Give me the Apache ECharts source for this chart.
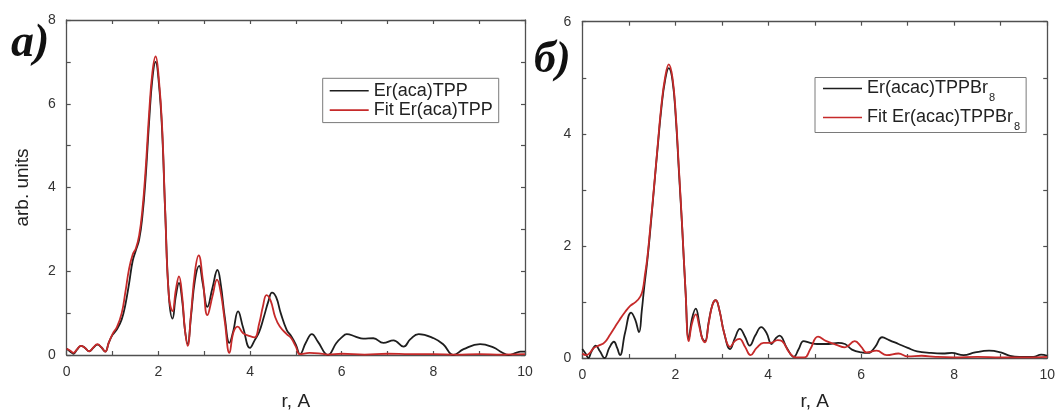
<!DOCTYPE html>
<html>
<head>
<meta charset="utf-8">
<script src="https://cdn.jsdelivr.net/npm/echarts@6/dist/echarts.min.js"></script>
<style>
  html, body { margin: 0; padding: 0; background: #ffffff; }
  #chart { width: 1058px; height: 416px; }
</style>
</head>
<body>
<div id="chart"></div>
<script>
// Panel а): Er(aca)TPP — experimental Fourier transform and fit
const rExpA = [0.00,0.08,0.15,0.22,0.31,0.40,0.49,0.58,0.67,0.76,0.84,0.92,1.00,1.10,1.20,1.28,1.36,1.44,1.51,1.58,1.65,1.72,1.80,1.87,1.94,2.01,2.08,2.15,2.23,2.31,2.38,2.45,2.52,2.58,2.64,2.71,2.80,2.89,2.97,3.07,3.18,3.29,3.36,3.45,3.55,3.63,3.74,3.85,4.00,4.10,4.20,4.30,4.40,4.48,4.57,4.67,4.80,4.90,5.00,5.09,5.22,5.35,5.48,5.70,5.88,6.00,6.11,6.30,6.47,6.69,6.91,7.13,7.35,7.50,7.68,8.01,8.22,8.44,8.66,9.02,9.31,9.50,9.64,9.80,9.90,10.00];
const muExpA = [0.15,0.08,0.03,0.12,0.22,0.17,0.09,0.17,0.25,0.18,0.08,0.30,0.48,0.62,0.85,1.20,1.70,2.25,2.50,2.75,3.30,4.20,5.60,6.60,7.00,6.50,5.40,3.40,1.40,0.87,1.40,1.72,1.30,0.60,0.26,0.90,1.80,2.13,1.70,1.15,1.60,2.03,1.70,0.90,0.29,0.55,1.04,0.65,0.17,0.35,0.55,0.90,1.28,1.49,1.38,1.00,0.60,0.45,0.25,0.02,0.30,0.50,0.32,0.00,0.28,0.42,0.50,0.44,0.39,0.40,0.29,0.35,0.20,0.38,0.50,0.40,0.25,0.00,0.14,0.26,0.18,0.06,0.00,0.05,0.08,0.08];

const rFitA = [0.00,0.08,0.15,0.22,0.31,0.40,0.49,0.58,0.67,0.76,0.84,0.92,1.00,1.10,1.20,1.28,1.36,1.44,1.51,1.58,1.65,1.72,1.80,1.87,1.94,2.01,2.08,2.15,2.23,2.31,2.38,2.45,2.52,2.58,2.64,2.71,2.80,2.88,2.97,3.07,3.18,3.28,3.36,3.45,3.55,3.64,3.73,3.85,4.00,4.10,4.20,4.28,4.36,4.45,4.55,4.65,4.80,4.90,5.00,5.09,5.30,5.50,5.70,6.00,6.50,7.00,7.50,8.00,8.50,9.00,9.50,10.00];
const muFitA = [0.15,0.10,0.05,0.13,0.22,0.17,0.09,0.18,0.26,0.18,0.08,0.30,0.50,0.68,1.00,1.50,2.05,2.40,2.55,2.85,3.45,4.40,5.80,6.75,7.13,6.60,5.50,3.40,1.40,1.05,1.55,1.88,1.40,0.60,0.22,0.95,2.00,2.38,1.80,0.95,1.40,1.80,1.50,0.80,0.05,0.55,0.68,0.52,0.45,0.42,0.75,1.15,1.43,1.30,0.90,0.68,0.50,0.40,0.20,0.02,0.05,0.04,0.01,0.03,0.01,0.03,0.02,0.02,0.01,0.02,0.01,0.02];

// Panel б): Er(acac)TPPBr8 — experimental Fourier transform and fit
const rExpB = [0.00,0.07,0.13,0.20,0.29,0.38,0.48,0.58,0.68,0.75,0.81,0.92,1.05,1.14,1.22,1.28,1.33,1.40,1.47,1.55,1.62,1.70,1.78,1.86,1.94,2.01,2.08,2.15,2.22,2.29,2.36,2.44,2.52,2.58,2.64,2.72,2.80,2.87,2.95,3.05,3.18,3.28,3.39,3.50,3.60,3.72,3.85,3.96,4.07,4.16,4.24,4.40,4.55,4.65,4.76,4.90,5.05,5.30,5.50,5.65,5.80,6.00,6.15,6.30,6.45,6.60,6.80,7.00,7.20,7.50,7.75,7.95,8.20,8.45,8.75,9.00,9.20,9.40,9.70,9.87,10.00];
const muExpB = [0.16,0.08,0.00,0.12,0.22,0.12,0.00,0.18,0.29,0.18,0.05,0.45,0.81,0.68,0.46,0.85,1.25,1.75,2.35,3.10,3.75,4.45,4.95,5.17,4.95,4.30,3.30,2.30,1.20,0.34,0.70,0.88,0.60,0.35,0.30,0.65,0.95,1.03,0.85,0.45,0.16,0.35,0.52,0.38,0.22,0.40,0.55,0.45,0.25,0.35,0.40,0.18,0.02,0.15,0.30,0.27,0.25,0.25,0.27,0.25,0.15,0.10,0.09,0.20,0.37,0.32,0.25,0.18,0.12,0.09,0.08,0.09,0.05,0.10,0.13,0.10,0.04,0.02,0.02,0.06,0.04];

const rFitB = [0.00,0.08,0.15,0.25,0.35,0.48,0.60,0.70,0.80,0.92,1.03,1.15,1.25,1.30,1.35,1.40,1.47,1.55,1.62,1.70,1.78,1.86,1.94,2.01,2.08,2.15,2.22,2.29,2.36,2.44,2.52,2.58,2.64,2.72,2.80,2.87,2.95,3.05,3.18,3.28,3.38,3.50,3.62,3.75,3.90,4.05,4.20,4.30,4.45,4.60,4.78,4.90,5.07,5.25,5.45,5.65,5.86,6.00,6.11,6.33,6.55,6.80,7.00,7.30,7.60,8.00,8.50,9.00,9.50,10.00];
const muFitB = [0.08,0.05,0.08,0.18,0.22,0.28,0.42,0.55,0.68,0.82,0.93,1.00,1.10,1.22,1.50,1.80,2.40,3.12,3.78,4.50,5.00,5.24,5.00,4.35,3.35,2.32,1.20,0.30,0.62,0.78,0.55,0.35,0.28,0.63,0.95,1.03,0.85,0.45,0.20,0.30,0.34,0.20,0.05,0.18,0.27,0.27,0.32,0.30,0.10,0.01,0.01,0.15,0.38,0.30,0.24,0.19,0.30,0.20,0.10,0.13,0.05,0.08,0.03,0.04,0.02,0.01,0.02,0.01,0.01,0.02];

// Axis ticks (labels shown on even values only)
const xTicks = [0, 2, 4, 6, 8, 10];
const yTicksA = [0, 2, 4, 6, 8];
const yTicksB = [0, 2, 4, 6];

const legendA = ['Er(aca)TPP', 'Fit Er(aca)TPP'];
const legendB = ['Er(acac)TPPBr8', 'Fit Er(acac)TPPBr8'];

const pairs = (xs, ys) => xs.map((x, i) => [x, ys[i]]);

const FONT = '"Liberation Sans", Arial, sans-serif';
const FRAME = '#505050';
const EXP_COLOR = '#1e1e1e';
const FIT_COLOR = '#c62a2a';

function evenLabel(ticks) {
  return v => (ticks.indexOf(v) >= 0 ? String(v) : '');
}

function xAxes(gridIndex) {
  const common = {
    type: 'value', gridIndex, min: 0, max: 10, interval: 1,
    axisLine: { show: true, onZero: false, lineStyle: { color: FRAME, width: 1.3 } },
    axisTick: { show: true, inside: true, length: 4, lineStyle: { color: FRAME, width: 1.2 } },
    splitLine: { show: false }
  };
  return [
    Object.assign({}, common, {
      position: 'bottom',
      name: 'r, A', nameLocation: 'middle', nameGap: gridIndex === 0 ? 37 : 34,
      nameTextStyle: { fontFamily: FONT, fontSize: 19, color: '#222' },
      axisLabel: { show: true, margin: 10, fontFamily: FONT, fontSize: 14, color: '#333', formatter: evenLabel(xTicks) }
    }),
    Object.assign({}, common, { position: 'top', axisLabel: { show: false } })
  ];
}

function yAxes(gridIndex, max, ticks, withName) {
  const common = {
    type: 'value', gridIndex, min: 0, max: max, interval: 1,
    axisLine: { show: true, onZero: false, lineStyle: { color: FRAME, width: 1.3 } },
    axisTick: { show: true, inside: true, length: 4, lineStyle: { color: FRAME, width: 1.2 } },
    splitLine: { show: false }
  };
  const left = Object.assign({}, common, {
    position: 'left',
    axisLabel: { show: true, margin: 11, fontFamily: FONT, fontSize: 14, color: '#333', formatter: evenLabel(ticks) }
  });
  if (withName) {
    Object.assign(left, {
      name: 'arb. units', nameLocation: 'middle', nameGap: 34,
      nameTextStyle: { fontFamily: FONT, fontSize: 19, color: '#222' }
    });
  }
  return [left, Object.assign({}, common, { position: 'right', axisLabel: { show: false } })];
}

function lineSeries(name, data, color, xi, yi) {
  return {
    type: 'line', name, data, xAxisIndex: xi, yAxisIndex: yi,
    showSymbol: false, symbol: 'none', smooth: 0.45,
    lineStyle: { color, width: 1.8 }, itemStyle: { color },
    clip: true
  };
}

const legendCommon = {
  orient: 'vertical', icon: 'rect', itemWidth: 39, itemHeight: 1.6,
  borderColor: '#7a7a7a', borderWidth: 1, backgroundColor: '#ffffff',
  selectedMode: false
};

const option = {
  animation: false,
  backgroundColor: '#ffffff',
  grid: [
    { left: 66.7, right: 533, top: 20, bottom: 57 },
    { left: 582.3, right: 10.3, top: 21.7, bottom: 53.3 }
  ],
  xAxis: [...xAxes(0), ...xAxes(1)],
  yAxis: [...yAxes(0, 8, yTicksA, true), ...yAxes(1, 6, yTicksB, false)],
  legend: [
    Object.assign({}, legendCommon, {
      data: legendA, left: 322.7, top: 78.3, itemGap: 1.3,
      padding: [3.5, 6, 3.5, 7],
      textStyle: { fontFamily: FONT, fontSize: 18, lineHeight: 18, color: '#222' }
    }),
    Object.assign({}, legendCommon, {
      data: legendB, left: 815, top: 77.5, itemGap: 3,
      padding: [0, 6, 0, 8],
      formatter: name => '{n|' + name.slice(0, -1) + '}{s|' + name.slice(-1) + '}',
      textStyle: {
        fontFamily: FONT, fontSize: 18, color: '#222',
        rich: {
          n: { fontFamily: FONT, fontSize: 18, lineHeight: 22, color: '#222', verticalAlign: 'top', padding: [2, 0, 0, 0] },
          s: { fontFamily: FONT, fontSize: 11, lineHeight: 11, color: '#222', verticalAlign: 'top', padding: [15, 0, 0, 1] }
        }
      }
    })
  ],
  graphic: [
    { type: 'text', x: 11, y: 44, style: { text: 'а)', font: 'italic bold 46px "Liberation Serif", "Times New Roman", serif', fill: '#111', verticalAlign: 'middle' } },
    { type: 'text', x: 534, y: 61, style: { text: 'б)', font: 'italic bold 44px "Liberation Serif", "Times New Roman", serif', fill: '#111', verticalAlign: 'middle' } }
  ],
  series: [
    lineSeries(legendA[0], pairs(rExpA, muExpA), EXP_COLOR, 0, 0),
    lineSeries(legendA[1], pairs(rFitA, muFitA), FIT_COLOR, 0, 0),
    lineSeries(legendB[0], pairs(rExpB, muExpB), EXP_COLOR, 2, 2),
    lineSeries(legendB[1], pairs(rFitB, muFitB), FIT_COLOR, 2, 2)
  ]
};

const chart = echarts.init(document.getElementById('chart'), null, { renderer: 'canvas' });
chart.setOption(option);
</script>
</body>
</html>
